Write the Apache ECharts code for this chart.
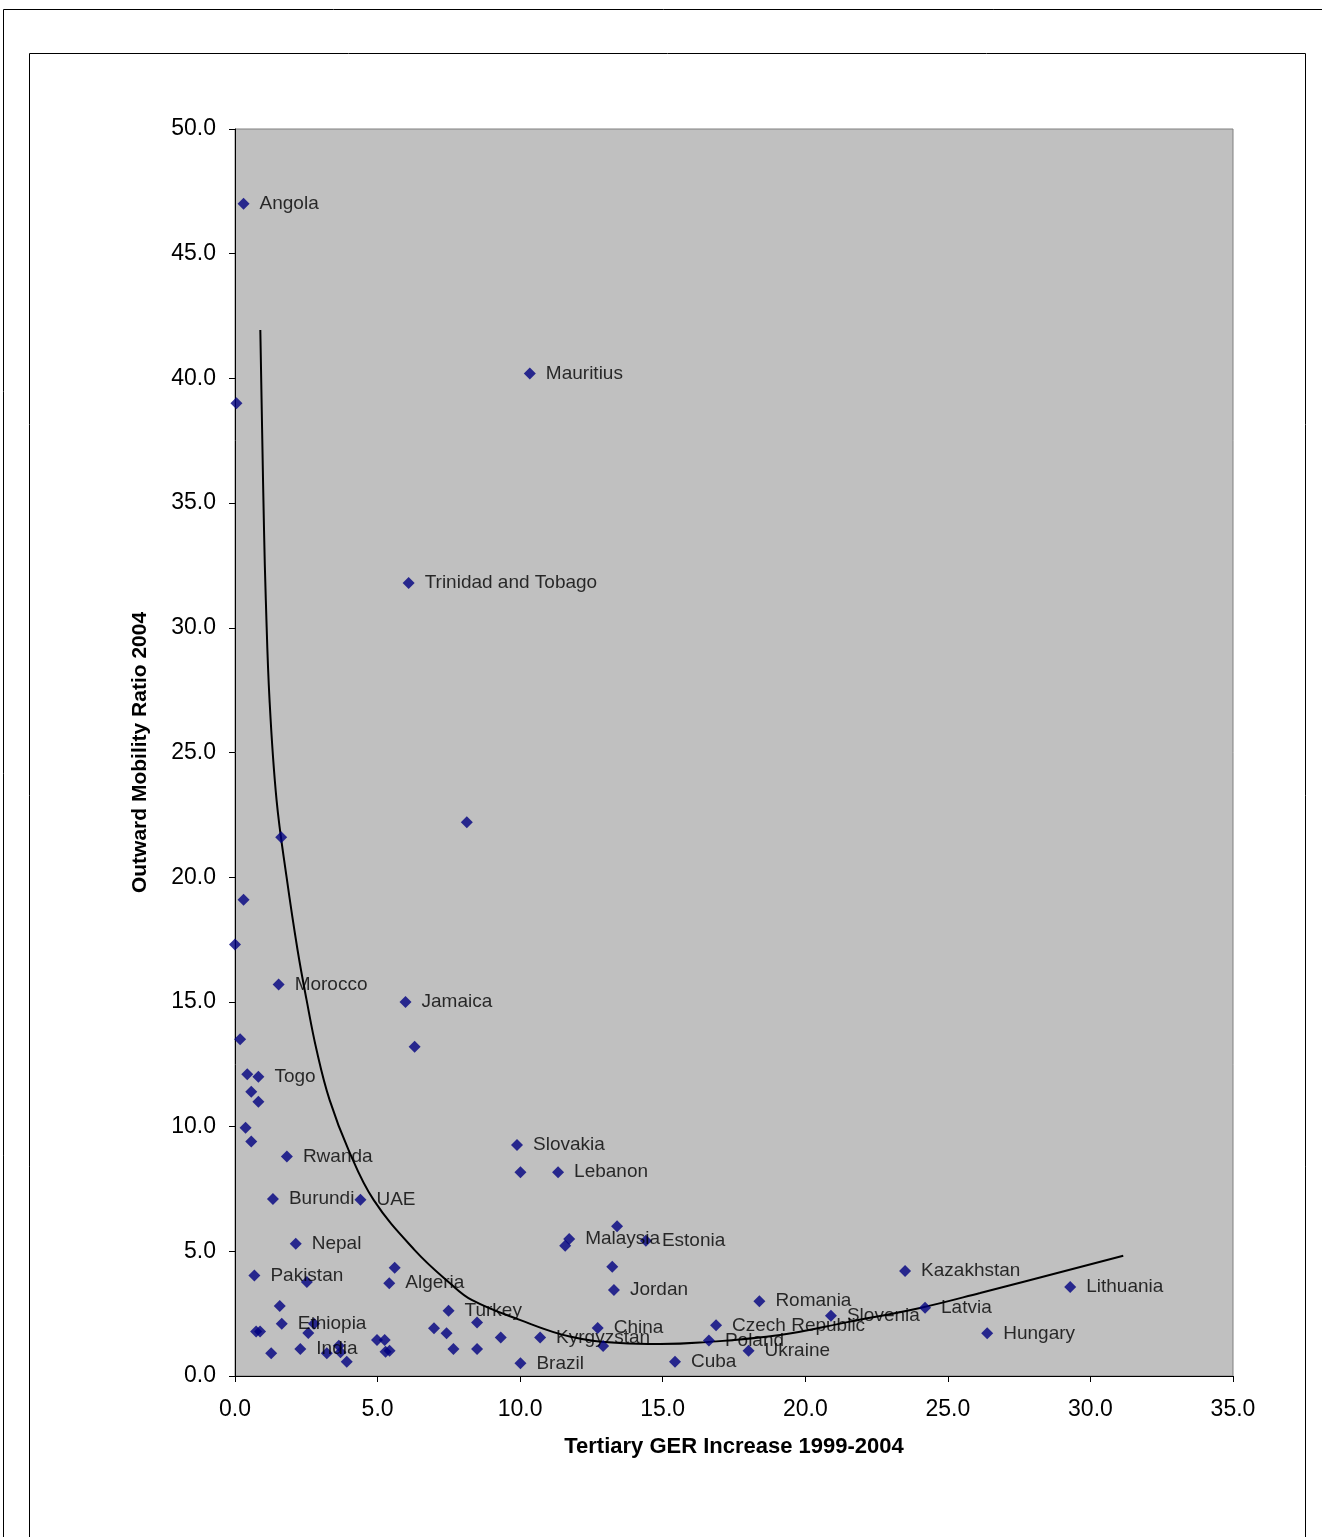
<!DOCTYPE html>
<html>
<head>
<meta charset="utf-8">
<script src="https://cdn.jsdelivr.net/npm/echarts@6/dist/echarts.min.js"></script>
<style>
  html, body { margin: 0; padding: 0; background: #fff; }
  #chart { width: 1322px; height: 1537px; }
</style>
</head>
<body>
<div id="chart"></div>
<script>
// country labels ('' = unlabelled point)
const countries = [
  "Angola", "", "Mauritius", "Trinidad and Tobago", "", "", "", "",
  "Morocco", "Jamaica", "", "", "", "Togo", "", "",
  "", "", "Rwanda", "Burundi", "UAE", "Nepal", "Pakistan", "",
  "", "Algeria", "", "Ethiopia", "", "", "", "",
  "", "India", "", "", "", "", "", "",
  "", "", "", "", "Turkey", "", "", "",
  "", "Kyrgyzstan", "Brazil", "China", "", "Malaysia", "", "",
  "Estonia", "", "Jordan", "Slovakia", "", "Lebanon", "Cuba", "Poland",
  "Czech Republic", "Ukraine", "Romania", "Slovenia", "Latvia", "Kazakhstan", "Lithuania", "Hungary"
];
// Tertiary GER increase 1999-2004
const gerIncrease = [
  0.30, 0.05, 10.34, 6.09, 8.13, 1.62, 0.30, 0.00,
  1.53, 5.98, 6.30, 0.18, 0.43, 0.82, 0.57, 0.82,
  0.37, 0.57, 1.82, 1.33, 4.40, 2.13, 0.68, 2.52,
  5.60, 5.41, 1.57, 1.64, 2.77, 0.74, 0.88, 2.57,
  1.27, 2.29, 3.22, 3.64, 3.70, 3.92, 4.98, 5.25,
  5.28, 5.42, 6.98, 7.42, 7.49, 7.66, 8.49, 8.49,
  9.32, 10.70, 10.01, 12.72, 12.91, 11.72, 11.58, 13.40,
  14.41, 13.23, 13.29, 9.89, 10.01, 11.33, 15.43, 16.62,
  16.87, 18.01, 18.39, 20.90, 24.20, 23.50, 29.29, 26.38
];
// Outward mobility ratio 2004
const mobilityRatio = [
  47.0, 39.0, 40.2, 31.8, 22.2, 21.6, 19.1, 17.3,
  15.7, 15.0, 13.2, 13.5, 12.1, 12.0, 11.4, 11.0,
  9.95, 9.4, 8.8, 7.1, 7.07, 5.3, 4.03, 3.77,
  4.34, 3.72, 2.81, 2.10, 2.10, 1.78, 1.78, 1.72,
  0.91, 1.08, 0.91, 1.21, 0.95, 0.57, 1.44, 1.44,
  0.97, 1.01, 1.91, 1.71, 2.62, 1.08, 2.15, 1.08,
  1.54, 1.54, 0.51, 1.92, 1.20, 5.49, 5.22, 6.00,
  5.42, 4.38, 3.45, 9.26, 8.17, 8.17, 0.57, 1.42,
  2.03, 1.01, 3.00, 2.42, 2.74, 4.21, 3.57, 1.71
];
// trendline
const trendX = [0.888, 0.951, 1.018, 1.081, 1.211, 1.457, 1.808, 2.194, 2.510, 2.861, 3.317, 3.984, 4.861, 6.301, 7.529, 8.301, 9.986, 11.741, 13.496, 14.900, 16.304, 19.112, 21.569, 24.026, 26.132, 31.151];
const trendY = [41.94, 37.93, 33.92, 31.11, 27.11, 23.10, 20.01, 17.08, 15.08, 13.07, 11.07, 9.06, 7.06, 5.05, 3.73, 3.05, 2.25, 1.58, 1.32, 1.28, 1.34, 1.64, 2.18, 2.73, 3.33, 4.82];

const pointData = gerIncrease.map((x, i) => ({ value: [x, mobilityRatio[i]], name: countries[i] }));
const trendData = trendX.map((x, i) => [x, trendY[i]]);

let myChart = echarts.init(document.getElementById("chart"));
let option = {
  backgroundColor: "#fff",
  animation: false,
  textStyle: { fontFamily: "Liberation Sans, Arial, sans-serif" },
  graphic: [
    { type: "rect", shape: { x: 3.5, y: 9.5, width: 1330, height: 1540 }, style: { fill: "none", stroke: "#000", lineWidth: 1 }, z: -1 },
    { type: "rect", shape: { x: 29.5, y: 53.5, width: 1276, height: 1500 }, style: { fill: "none", stroke: "#000", lineWidth: 1 }, z: -1 },
  ],
  grid: {
    left: 235, top: 129, width: 998, height: 1247,
    show: true, backgroundColor: "#C0C0C0", borderColor: "#808080", borderWidth: 1,
  },
  xAxis: {
    type: "value", min: 0, max: 35, interval: 5,
    name: "Tertiary GER Increase 1999-2004", nameLocation: "middle", nameGap: 60,
    nameTextStyle: { fontSize: 22, fontWeight: "bold", color: "#000" },
    axisLine: { show: true, lineStyle: { color: "#000", width: 1 } },
    axisTick: { show: true, inside: false, length: 6, lineStyle: { color: "#000" } },
    axisLabel: { fontSize: 23, color: "#000", margin: 22, formatter: (v) => v.toFixed(1) },
    splitLine: { show: false },
  },
  yAxis: {
    type: "value", min: 0, max: 50, interval: 5,
    name: "Outward Mobility Ratio 2004", nameLocation: "middle", nameGap: 84,
    nameTextStyle: { fontSize: 21, fontWeight: "bold", color: "#000" },
    axisLine: { show: true, lineStyle: { color: "#000", width: 1 } },
    axisTick: { show: true, inside: false, length: 6, lineStyle: { color: "#000" } },
    axisLabel: { fontSize: 23, color: "#000", margin: 19, formatter: (v) => v.toFixed(1) },
    splitLine: { show: false },
  },
  series: [
    {
      type: "line", data: trendData, smooth: 0.4, showSymbol: false, silent: true,
      lineStyle: { color: "#000", width: 2 }, z: 2,
    },
    {
      type: "scatter", data: pointData, symbol: "diamond", symbolSize: 12,
      itemStyle: { color: "#000080" }, z: 3,
      label: {
        show: true, position: "right", distance: 10, fontSize: 19, color: "#000",
        formatter: (p) => p.name,
      },
      labelLayout: { hideOverlap: false },
    },
  ],
};
option && myChart.setOption(option);
</script>
</body>
</html>
